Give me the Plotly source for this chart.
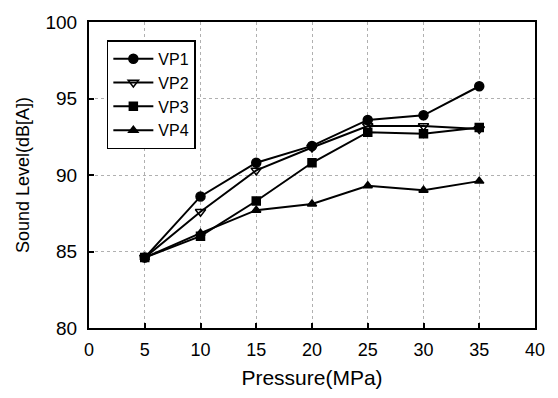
import plotly.graph_objects as go

pressure = [5, 10, 15, 20, 25, 30, 35]
vp1 = [84.6, 88.6, 90.8, 91.9, 93.6, 93.9, 95.8]
vp2 = [84.6, 87.6, 90.3, 91.8, 93.2, 93.2, 93.0]
vp3 = [84.6, 86.0, 88.3, 90.8, 92.8, 92.7, 93.1]
vp4 = [84.6, 86.2, 87.7, 88.1, 89.3, 89.0, 89.6]

series = [
    ("VP1", vp1, "circle", 9),
    ("VP2", vp2, "triangle-down-open", 9),
    ("VP3", vp3, "square", 8),
    ("VP4", vp4, "triangle-up", 8),
]

x_ticks = [0, 5, 10, 15, 20, 25, 30, 35, 40]
y_ticks = [80, 85, 90, 95, 100]

fig = go.Figure()
for name, vals, sym, sz in series:
    fig.add_trace(go.Scatter(
        x=pressure, y=vals, name=name, mode="lines+markers",
        line=dict(color="black", width=2),
        marker=dict(symbol=sym, size=sz, color="black",
                    line=dict(color="black", width=1.5)),
    ))

font_family = "Liberation Sans, Arial, sans-serif"
fig.update_layout(
    width=558, height=398,
    margin=dict(l=89, r=23, t=12, b=67),
    paper_bgcolor="white", plot_bgcolor="white",
    font=dict(family=font_family, color="black", size=18),
    showlegend=True,
    legend=dict(
        x=0.04, y=0.94, xanchor="left", yanchor="top",
        bordercolor="black", borderwidth=1.5, bgcolor="white",
        font=dict(size=16, family=font_family, color="black"),
        itemwidth=40, tracegroupgap=0,
    ),
    xaxis=dict(
        range=[0, 40], tickvals=x_ticks, ticktext=[str(v) for v in x_ticks],
        ticks="inside", ticklen=5, tickwidth=1.5, tickcolor="black",
        showline=True, linecolor="black", linewidth=2, mirror=True,
        showgrid=True, gridcolor="#b0b0b0", griddash="dot", gridwidth=1,
        zeroline=False,
        tickfont=dict(size=18),
        ticklabelstandoff=4,
        title=dict(text="Pressure(MPa)", font=dict(size=21), standoff=12),
    ),
    yaxis=dict(
        range=[80, 100], tickvals=y_ticks, ticktext=[str(v) for v in y_ticks],
        ticks="inside", ticklen=5, tickwidth=1.5, tickcolor="black",
        showline=True, linecolor="black", linewidth=2, mirror=True,
        showgrid=True, gridcolor="#b0b0b0", griddash="dot", gridwidth=1,
        zeroline=False,
        tickfont=dict(size=19),
        ticklabelstandoff=6,
        title=dict(text="Sound Level(dB[A])", font=dict(size=18), standoff=11),
    ),
)

fig.write_html("out.html")
